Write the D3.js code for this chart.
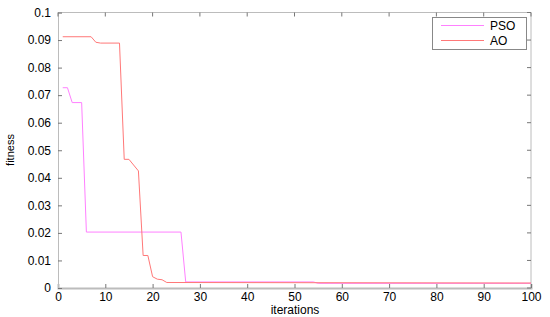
<!DOCTYPE html>
<html><head><meta charset="utf-8">
<script src="https://cdn.jsdelivr.net/npm/d3@7"></script>
<style>body{margin:0;background:#fff}svg{display:block}text{font-family:"Liberation Sans",Arial,sans-serif}</style>
</head><body><svg id="c" width="550" height="317"></svg>
<script>
const psoX = [1,2,3,5,6,26,27,54,55,100];
const psoY = [0.0727,0.0727,0.0673,0.0673,0.0203,0.0203,0.0022,0.0022,0.0017,0.0017];
const aoX = [1,7,8,9,13,14,15,17,18,19,20,21,22,23,100];
const aoY = [0.0912,0.0912,0.0892,0.0889,0.0889,0.0467,0.0467,0.0425,0.0118,0.0118,0.0041,0.0032,0.0030,0.0020,0.0018];
const xTicks = [0,10,20,30,40,50,60,70,80,90,100];
const yTicks = [0,0.01,0.02,0.03,0.04,0.05,0.06,0.07,0.08,0.09,0.1];
const yTickLabels = ["0","0.01","0.02","0.03","0.04","0.05","0.06","0.07","0.08","0.09","0.1"];
const seriesNames = ["PSO","AO"];
const colors = ["#ff80ff","#ff7878"];

const svg = d3.select("#c");
const L=58,R=531,T=12.5,B=288;
const x = d3.scaleLinear().domain([0,100]).range([L,R]);
const y = d3.scaleLinear().domain([0,0.1]).range([B,T]);
const axisColor="#bcbcbc";

svg.append("line").attr("x1",L).attr("x2",R).attr("y1",T).attr("y2",T).attr("stroke",axisColor);
svg.append("line").attr("x1",R).attr("x2",R).attr("y1",T).attr("y2",B).attr("stroke",axisColor);

const gx = svg.append("g").attr("transform",`translate(0,${B})`)
  .call(d3.axisBottom(x).tickValues(xTicks).tickSize(-4).tickPadding(4).tickFormat(d3.format("d")));
const gy = svg.append("g").attr("transform",`translate(${L},0)`)
  .call(d3.axisLeft(y).tickValues(yTicks).tickSize(-4).tickPadding(7).tickFormat((d,i)=>yTickLabels[i]));
[gx,gy].forEach(g=>{
  g.selectAll("path").attr("stroke",axisColor);
  g.selectAll("line").attr("stroke","#777");
  g.selectAll("text").attr("font-size","12px").attr("fill","#000").attr("font-family","Liberation Sans, Arial, sans-serif");
});
gx.select("path").attr("stroke-width",2);
svg.append("g").selectAll("line").data(xTicks).join("line")
  .attr("x1",d=>x(d)).attr("x2",d=>x(d)).attr("y1",T).attr("y2",T+4).attr("stroke","#777");
svg.append("g").selectAll("line").data(yTicks).join("line")
  .attr("x1",R).attr("x2",R-4).attr("y1",d=>y(d)).attr("y2",d=>y(d)).attr("stroke","#777");

const line = d3.line().x(d=>x(d[0])).y(d=>y(d[1]));
const data = [d3.zip(psoX,psoY), d3.zip(aoX,aoY)];
svg.append("g").selectAll("path").data(data).join("path")
  .attr("d",line).attr("fill","none").attr("stroke",(d,i)=>colors[i]).attr("stroke-width",1);

svg.append("text").attr("x",295).attr("y",314).attr("text-anchor","middle").attr("font-size","12px").text("iterations");
svg.append("text").attr("transform","translate(14,150) rotate(-90)").attr("text-anchor","middle").attr("font-size","11px").text("fitness");

const lg = svg.append("g");
lg.append("rect").attr("x",432.5).attr("y",17.5).attr("width",94).attr("height",32).attr("fill","#fff").attr("stroke","#888");
seriesNames.forEach((n,i)=>{
  const yy = 25.5 + i*15;
  lg.append("line").attr("x1",441).attr("x2",484).attr("y1",yy).attr("y2",yy).attr("stroke",colors[i]).attr("stroke-width",1);
  lg.append("text").attr("x",490).attr("y",yy+4.5).attr("font-size","12px").text(n);
});
</script></body></html>
